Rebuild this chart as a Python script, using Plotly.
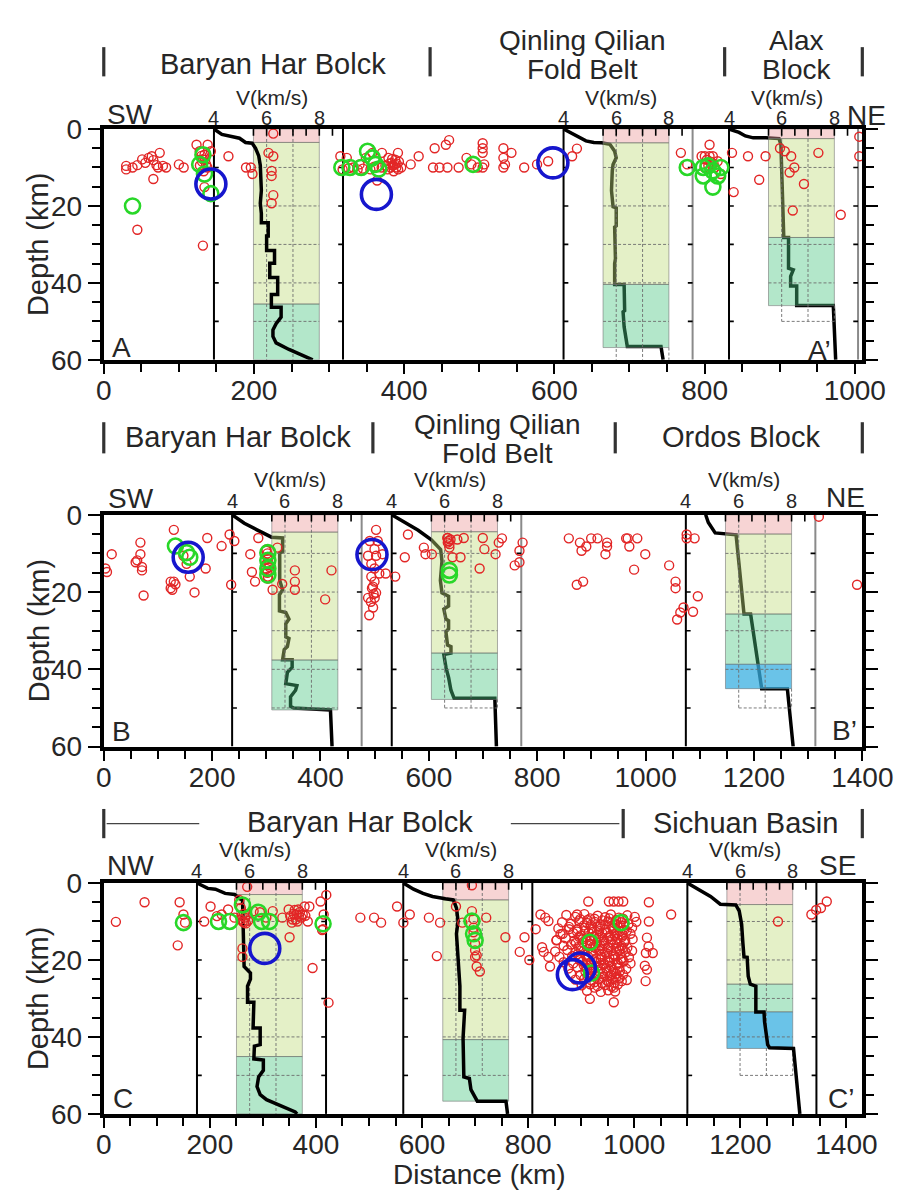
import plotly.graph_objects as go

# ---------------------------------------------------------------- data
# earthquakes: (distance km, depth km)
A_RED = [(29.8,9.6),(29.8,10.5),(38.3,10.0),(44.7,9.4),(51.1,7.9),(55.3,8.8),(59.6,7.5),(63.9,7.1),(66.0,8.1),(70.2,9.4),
         (72.4,10.0),(74.5,6.2),(78.8,9.6),(83.0,10.0),(66.0,13.0),(100.0,9.2),(106.4,10.0),(44.7,26.2),(132.0,30.3),
         (123.5,4.1),(127.7,5.8),(134.1,6.7),(138.3,4.1),(142.6,5.8),(132.0,7.9),(136.3,9.2),(134.1,15.1),(130.0,7.0),
         (131.0,8.5),(128.0,9.5),(135.0,8.0),(138.0,10.0),(133.0,11.0),
         (166.0,7.1),(189.4,10.0),(195.8,10.0),(198.0,11.7),(219.3,6.2),(225.7,7.1),(223.5,10.9),(223.5,12.2),(225.7,17.2),
         (223.5,19.3),(225.7,1.2),
         (315.0,7.1),(323.6,7.5),(332.0,10.0),(340.6,9.2),(349.0,7.5),(357.6,6.2),(370.4,6.2),(379.0,7.5),(383.0,8.8),
         (387.4,9.2),(391.7,6.2),(389.5,10.0),(396.0,10.0),(408.7,9.2),(419.3,7.1),(440.6,5.0),(455.5,4.1),(459.8,2.9),
         (438.4,10.0),(447.0,10.0),(457.6,10.0),(472.5,10.0),(483.0,7.5),(489.5,9.2),(498.0,10.0),(364.0,13.4),
         (380.0,9.0),(382.0,10.0),(385.0,9.5),(388.0,8.0),(390.0,9.0),(392.0,10.5),(386.0,11.0),(384.0,7.8),(393.0,8.5),
         (378.0,10.5),(375.0,9.5),(370.0,10.0),(360.0,9.8),(355.0,10.5),(345.0,10.3),(338.0,10.5),(326.0,10.2),(318.0,10.5),
         (504.5,3.7),(504.5,5.0),(504.5,6.2),(506.6,9.2),(504.5,10.0),(532.1,5.0),(532.1,7.5),(534.2,9.2),(532.1,10.0),
         (542.8,6.2),(559.8,10.0),(576.9,9.2),(591.7,8.4),(623.6,7.1),(630.0,5.1),
         (768.4,6.2),(776.9,9.2),(806.6,4.1),(796.0,7.1),(800.3,7.1),(806.6,7.1),(811.0,7.1),(808.8,9.2),(813.1,10.0),
         (817.4,8.4),(821.6,11.7),(836.5,6.2),(838.7,16.4),(857.8,7.1),(881.2,7.1),(900.4,5.0),(906.8,5.8),(915.3,7.1),
         (913.2,11.3),(919.5,10.0),(932.3,14.3),(951.5,6.2),(872.7,13.2),(1006.0,2.0),(1006.0,7.1),(917.4,21.2),
         (981.3,22.3),(803.0,8.0),(808.0,8.5),(812.0,9.0),(805.0,9.5),(800.0,10.0)]
A_GREEN = [(132.0,6.7),(127.7,9.2),(134.1,11.7),(142.6,16.8),(38.3,20.0),(317.0,10.0),(327.8,10.0),(342.7,10.0),
           (351.2,5.8),(357.6,7.5),(361.8,9.2),(366.1,10.4),(491.7,9.2),(776.9,10.0),(798.2,10.0),(804.6,9.6),
           (811.0,10.9),(821.6,10.0),(798.2,12.2),(817.4,12.2),(811.0,15.1)]
A_BLUE = [(142.6,14.3),(363.0,17.0),(598.0,8.8)]

B_RED = [(3.0,13.9),(5.9,14.8),(14.7,10.2),(61.7,11.8),(58.8,12.3),(67.6,7.2),(67.6,10.2),(70.5,13.5),(70.5,14.4),
         (123.5,17.3),(129.3,17.3),(126.4,19.4),(73.5,20.9),(129.3,3.9),(147.0,10.6),(152.9,12.7),(158.7,16.0),
         (167.5,20.1),(191.0,6.0),(188.1,13.9),(217.5,8.1),(232.2,5.1),(235.1,18.1),(241.0,6.8),(270.4,10.2),
         (285.2,6.0),(273.4,14.8),(279.2,17.3),(299.8,9.3),(302.8,11.0),(305.6,13.5),(302.8,16.0),(311.6,19.4),
         (320.5,8.5),(329.3,17.9),(352.7,14.4),(352.7,17.3),(352.7,19.4),(420.3,14.4),(408.6,21.9),
         (300.0,9.0),(302.0,10.0),(303.0,11.5),(301.0,12.5),(304.0,13.0),(300.0,14.0),(302.0,15.0),(303.0,16.5),
         (502.6,3.9),(490.8,6.8),(505.6,6.8),(499.7,8.9),(487.8,10.6),(502.6,10.6),(514.4,10.2),(493.8,12.7),
         (499.7,13.9),(508.5,15.2),(520.3,15.2),(493.8,16.0),(499.7,17.3),(496.8,18.6),(502.6,20.2),(487.8,21.5),
         (495.0,19.0),(498.0,20.5),(500.0,21.5),(493.0,22.5),(497.0,24.0),(490.0,26.0),
         (537.9,16.0),(555.6,11.0),(561.4,5.1),(590.8,8.5),(593.8,10.2),(605.5,10.2),(634.9,6.0),(634.9,7.2),
         (637.9,8.5),(652.6,6.4),(664.4,6.0),(643.7,11.0),(658.4,11.0),(699.5,6.0),(702.5,8.9),(693.7,13.9),
         (634.0,6.0),(636.0,6.8),(638.0,7.6),(640.0,6.4),
         (734.9,6.1),(729.0,7.2),(723.1,10.2),(758.4,13.1),(767.2,12.3),(767.2,9.3),(773.0,7.2),(858.3,6.1),
         (878.8,7.2),(881.8,9.3),(890.6,8.2),(899.5,6.1),(911.2,6.1),(928.9,7.2),(928.9,8.2),(925.9,10.2),
         (964.1,6.1),(967.0,6.1),(970.0,8.2),(984.7,6.1),(999.4,10.2),(978.8,14.2),(873.0,18.1),(884.7,17.3),
         (1043.5,13.1),(1055.3,17.3),(1055.3,19.0),(1075.8,5.1),(1075.8,6.1),(1090.5,6.1),(1319.8,0.5),(1390.3,18.1),
         (1070.0,24.0),(1064.1,25.3),(1058.2,27.1),(1087.6,25.1),(1096.4,21.1),(123.5,19.0),(132.3,18.0)]
B_GREEN = [(132.3,8.1),(152.9,9.8),(158.7,11.0),(302.8,9.8),(302.8,11.8),(302.8,13.9),(302.8,15.6),
           (637.9,14.4),(637.9,15.6)]
B_BLUE = [(155.8,11.0),(495.0,10.3)]

C_RED = [(22.8,10.1),(76.9,5.0),(143.0,5.0),(139.4,16.2),(150.2,8.2),(153.2,10.3),(189.3,10.0),(201.3,6.1),
         (213.3,8.6),(222.3,8.2),(234.4,6.9),(246.4,9.0),(255.4,4.4),(258.4,6.5),(264.4,10.3),(261.4,17.0),
         (261.4,19.2),(270.4,1.0),(270.4,8.2),(282.5,7.3),(294.4,7.6),(306.5,9.0),(318.5,7.3),(336.6,9.0),
         (348.5,6.9),(351.5,8.6),(354.6,10.3),(363.6,8.2),(366.5,6.9),(372.6,9.0),(378.6,6.1),(387.6,6.1),
         (384.6,10.0),(350.3,14.1),(393.6,22.1),(408.7,4.8),(414.6,8.2),(413.4,12.0),(419.5,3.1),(411.6,12.2),
         (423.7,31.1),(483.7,9.0),(509.6,9.0),(522.8,10.3),(552.9,6.1),(564.8,10.3),(576.9,8.2),(612.9,9.0),
         (634.0,10.3),(664.0,6.1),(676.0,10.3),(627.9,19.0),
         (258.0,9.5),(262.0,10.0),(266.0,9.0),(268.0,10.5),(272.0,9.8),(260.0,8.5),(264.0,8.0),
         (358.0,8.0),(362.0,9.5),(368.0,8.5),(370.0,7.5),(375.0,8.2),(360.0,7.0),(365.0,10.0),(356.0,9.5),(380.0,8.5),
         (694.0,0.6),(694.0,7.3),(697.0,9.4),(721.0,9.0),(757.2,14.1),(697.0,11.6),(697.0,12.8),(700.0,15.8),
         (700.0,17.5),(700.0,19.2),(703.0,21.7),(709.0,23.0),(703.0,18.8),
         (1069.6,8.2),(1027.6,5.0),(1027.6,10.0),(1024.0,14.2),(1027.0,16.5),(1022.0,18.2),(1035.0,18.2),
         (1020.0,21.5),(1024.0,22.5),
         (823.3,8.2),(832.3,9.0),(838.3,9.9),(814.3,12.0),(826.3,16.7),(829.3,17.9),(838.3,19.2),(802.3,20.0),
         (841.3,21.7),(784.2,17.9),(793.2,14.1),
         (913.4,4.8),(952.3,4.8),(961.3,4.8),(970.3,4.8),(979.3,4.8),(892.3,8.2),(877.3,12.0),(865.3,13.2),(853.2,14.9),
         (916.4,30.1),(961.5,31.0),(925.4,27.2),(961.5,27.2),(976.5,25.5),(1021.5,25.5),
         (1271.0,10.0),(1334.0,8.2),(1343.0,7.0),(1352.0,6.5),(1363.0,4.8)]
C_CLUSTER = [(872,8.3),(889,8.8),(906,8.1),(917,9.2),(931,8.5),(945,8.9),(956,8.2),(971,9.0),(987,8.4),(1001,8.8),
             (864,10.2),(881,10.6),(896,9.9),(911,10.4),(926,10.1),(937,10.8),(951,10.0),(963,10.5),(975,10.2),
             (989,10.7),(1004,10.1),
             (857,11.8),(877,11.4),(893,12.0),(907,11.6),(920,11.9),(935,11.3),(946,12.1),(959,11.7),(970,11.5),
             (981,12.2),(996,11.6),
             (861,13.3),(885,13.0),(899,13.6),(914,12.9),(929,13.4),(940,13.1),(954,13.7),(967,13.0),(978,13.5),(993,13.2),
             (854,14.8),(871,14.4),(887,15.0),(903,14.6),(917,14.9),(932,14.3),(943,15.1),(958,14.7),(969,14.5),
             (983,15.0),(997,14.6),
             (867,16.3),(881,16.0),(895,16.6),(911,16.1),(923,16.5),(936,16.2),(950,16.7),(961,16.0),(976,16.4),(987,16.8),
             (851,17.8),(874,17.4),(889,18.0),(905,17.6),(919,17.9),(934,17.5),(945,18.1),(957,17.7),(972,17.4),
             (984,18.0),(996,17.6),
             (859,19.2),(883,19.0),(898,19.5),(913,19.1),(928,19.6),(939,19.2),(953,19.4),(964,19.0),(977,19.5),(990,19.3),
             (867,20.6),(885,20.9),(902,20.4),(918,20.8),(929,20.5),(944,21.0),(954,20.6),(969,20.8),(980,20.4),(993,20.9),
             (876,22.2),(893,21.9),(911,22.4),(922,22.0),(937,22.3),(947,22.1),(961,22.5),(972,22.0),(985,22.3),
             (881,23.6),(899,23.9),(913,23.4),(928,23.8),(941,23.5),(956,23.9),(966,23.6),(979,23.8),
             (889,25.1),(906,24.9),(919,25.3),(934,25.0),(949,25.4),(959,25.1),(972,24.8),(986,25.2),
             (901,26.6),(917,26.3),(931,26.8),(945,26.5),(957,26.9),(969,26.4),
             (911,28.0),(937,28.3),(951,27.9),(964,28.2)]
C_CORE = [(898,9.4),(912,9.6),(925,9.3),(940,9.7),(953,9.2),(966,9.6),(979,9.3),
          (905,11.0),(918,10.9),(931,11.2),(944,10.8),(957,11.1),(968,10.9),(980,11.1),
          (892,12.6),(907,12.4),(921,12.7),(934,12.5),(948,12.8),(961,12.3),(973,12.6),(986,12.4),
          (896,14.0),(910,14.2),(924,13.9),(938,14.1),(951,14.3),(964,13.8),(977,14.0),
          (890,15.6),(903,15.4),(917,15.8),(930,15.5),(943,15.7),(956,15.3),(968,15.6),(981,15.4),
          (899,17.0),(912,17.2),(927,16.9),(940,17.1),(952,16.8),(966,17.1),(978,16.9),
          (893,18.5),(908,18.7),(922,18.4),(936,18.6),(949,18.3),(961,18.6),(974,18.4),
          (897,20.0),(911,19.8),(924,20.1),(937,19.9),(950,20.2),(962,19.8),(975,20.0),
          (905,21.4),(918,21.3),(931,21.6),(942,21.2),(956,21.5),(967,21.3),
          (908,23.0),(921,22.8),(935,23.1),(948,22.9),(961,23.2),(973,22.9),
          (912,24.3),(927,24.1),(941,24.4),(954,24.2),(966,24.5),
          (925,25.8),(939,26.0),(952,25.7),(963,25.9)]
C_GREEN = [(150.2,10.3),(216.3,10.0),(237.4,10.0),(261.4,5.7),(291.5,7.6),(297.5,10.0),(312.5,10.0),(413.4,10.6),
           (694.1,9.9),(697.1,13.2),(700.1,14.9),(916.4,15.4),(975.3,10.3),(919.5,23.4)]
C_BLUE = [(303.5,17.0),(883.4,23.8),(898.4,22.1)]

# velocity profiles: velocity (km/s) and depth (km)
A1_V = [4.0,4.3,4.97,5.2,5.45,5.58,5.7,5.76,5.8,5.76,5.8,5.8,6.06,6.06,6.0,6.0,6.3,6.3,6.12,6.12,6.42,6.42,
        6.18,6.18,6.55,6.55,6.36,6.24,6.24,6.36,6.85,7.75]
A1_D = [0,1.4,2.4,3.5,3.7,5,7,9.5,16,19.3,22,24.4,24.4,27.8,27.8,31.6,31.6,34.9,34.9,38.6,38.6,43.0,
        43.0,46.3,46.3,48.9,50.6,52.2,53.9,55.6,57.3,60]
A1_LAYERS = [(0,3.5,'pink'),(3.5,45.5,'yg'),(45.5,60,'teal')]

A2_V = [4.0,4.36,4.61,4.85,5.15,5.45,5.76,5.94,6.0,5.88,5.85,5.82,5.88,6.0,6.0,5.94,5.97,5.94,5.94,6.3,6.32,
        6.26,6.3,6.42,7.7,7.78]
A2_D = [0,1.4,2.4,3.1,3.5,3.6,4.0,5.8,7.5,9.2,10.9,16,20.2,20.5,25.2,25.5,33.7,35,40.4,40.4,47.2,47.5,51.4,
        56.5,56.5,60]
A2_LAYERS = [(0,3.6,'pink'),(3.6,40.4,'yg'),(40.4,56.8,'teal')]

A3_V = [4.0,4.38,4.62,4.92,5.4,5.9,5.97,6.0,6.01,6.08,6.08,6.26,6.26,6.44,6.34,6.34,6.57,6.57,7.96,8.05]
A3_D = [0,0.9,1.8,2.3,2.3,2.5,4,10,16,23.5,28.2,28.2,36.2,36.6,38.3,40.8,40.8,45.9,45.9,60]
A3_LAYERS = [(0,2.5,'pink'),(2.5,28.2,'yg'),(28.2,45.9,'teal')]

B1_V = [4.0,4.46,4.94,5.37,5.49,5.91,5.91,5.8,5.8,5.91,5.79,5.79,6.03,6.15,6.03,6.03,6.15,6.09,5.97,5.91,
        6.27,6.27,6.09,6.03,6.45,6.40,6.21,6.21,6.33,7.72,7.78]
B1_D = [0,2.2,3.9,5.5,5.8,6.0,9.5,10,17,19.4,20.7,24.9,25.3,27,28.2,31.6,32,34.1,34.9,37.5,37.5,39.5,40.8,
        43.7,44.2,45.4,47.1,49.6,50,50.5,60]
B1_LAYERS = [(0,4.5,'pink'),(4.5,37.6,'yg'),(37.6,50.5,'teal')]

B2_V = [4.0,4.5,5.0,5.5,5.85,5.9,5.84,5.9,6.15,6.15,5.97,6.05,6.15,6.15,6.05,6.11,6.24,6.24,5.97,6.05,
        6.15,6.24,6.36,7.9,7.96]
B2_D = [0,2,4,6.5,9,12,17,20.2,21.1,23.6,24.4,27,27.4,29.5,30.3,33.7,34.1,35.8,36.2,39.5,42.1,45.4,47.5,47.5,60]
B2_LAYERS = [(0,4.4,'pink'),(4.4,35.8,'yg'),(35.8,47.8,'teal')]

B3_V = [4.75,4.85,5.11,5.47,5.9,6.0,6.1,6.2,6.45,6.75,6.87,7.84,8.06]
B3_D = [0,2,4.7,5.0,5.2,12,19,25.7,25.7,38.7,45,45,60]
B3_LAYERS = [(0,5.0,'pink'),(5.0,25.7,'yg'),(25.7,38.7,'teal'),(38.7,45,'blue')]

C1_V = [4.0,4.41,4.7,5.07,5.43,5.6,5.73,5.77,5.79,6.03,6.03,5.92,5.92,6.16,6.16,6.13,6.4,6.4,6.18,6.16,6.52,
        6.52,6.34,6.28,6.4,6.64,7.73,7.8]
C1_D = [0,1.4,1.6,2.7,3.0,4.0,4.4,13.2,21.7,23.4,25,26.8,31,31,36,37.7,37.7,42,42.4,45.7,46,48.7,50.4,52.9,
        55,56.3,59.5,60]
C1_LAYERS = [(0,3.0,'pink'),(3.0,45.1,'yg'),(45.1,60,'teal')]

C2_V = [4.0,4.39,4.75,5.11,5.6,5.9,6.02,6.08,6.02,6.08,6.15,6.15,6.33,6.27,6.3,6.51,6.57,6.81,7.9,7.96]
C2_D = [0,1.6,2.7,3.5,4.1,4.4,6.5,9.9,13.2,20,26.8,33.1,33.1,40.3,50.4,50.8,53.7,56.7,56.7,60]
C2_LAYERS = [(0,4.4,'pink'),(4.4,40.7,'yg'),(40.7,56.7,'teal')]

C3_V = [4.0,4.39,4.88,5.25,5.84,5.97,6.06,6.11,6.15,6.27,6.31,6.39,6.6,6.6,6.91,6.93,7.05,7.12,8.03,8.27]
C3_D = [0,1.6,3.5,5.5,5.7,7.3,10.7,15.8,19.2,19.3,24.2,26.3,26.8,33.5,33.5,36,42,42.8,43,60]
C3_LAYERS = [(0,5.6,'pink'),(5.6,26.3,'yg'),(26.3,33.5,'teal'),(33.5,43,'blue')]

# distance (km) where each profile's 4 km/s axis sits
PROFILE_X4 = {'A1': 146.7, 'A2': 612.2, 'A3': 832.5,
              'B1': 236.9, 'B2': 531.5, 'B3': 1074.3,
              'C1': 175.7, 'C2': 564.6, 'C3': 1100.2}

# region boundaries (km) and labels
A_BOUNDS = [0, 434.5, 826.7, 1010]
B_BOUNDS = [0, 496.7, 944.0, 1400]
C_BOUNDS = [0, 979.2, 1430]
A_REGIONS = [(["Baryan Har Bolck"], 225.3), (["Qinling Qilian", "Fold Belt"], 637.6), (["Alax", "Block"], 922.3)]
B_REGIONS = [(["Baryan Har Bolck"], 247.5), (["Qinling Qilian", "Fold Belt"], 727.6), (["Ordos Block"], 1175.5)]
C_REGIONS = [(["Baryan Har Bolck"], 483.0), (["Sichuan Basin"], 1209.8)]

# ---------------------------------------------------------------- layout constants
FONT = "Liberation Sans, Arial, Helvetica, sans-serif"
TXT = "#262626"
W, H = 923, 1201
PLOT_L, PLOT_R = 100, 892
PANELS = ['A', 'B', 'C']
X_RANGE = {'A': 1010, 'B': 1400, 'C': 1430}
Y_TOP = {'A': 117, 'B': 513, 'C': 891}
Y_BOT = {'A': 354, 'B': 751, 'C': 1128}
V_PX = {'A': 27.5, 'B': 27.6, 'C': 27.5}   # pixels per km/s on profile axes
AX = {'A': ('x', 'y'), 'B': ('x2', 'y2'), 'C': ('x3', 'y3')}
PX_PER_KM = {p: (PLOT_R - PLOT_L) / X_RANGE[p] for p in PANELS}
PX_PER_DEP = {p: (Y_BOT[p] - Y_TOP[p]) / 60.0 for p in PANELS}
KM_PER_V = {p: V_PX[p] / PX_PER_KM[p] for p in PANELS}

LAYER_COLORS = {'pink': 'rgba(235,152,152,0.42)', 'yg': 'rgba(190,219,121,0.42)',
                'teal': 'rgba(74,198,129,0.42)', 'blue': 'rgba(56,175,224,0.75)'}

PROFILES = [
    dict(name='A1', v=A1_V, d=A1_D, layers=A1_LAYERS, grid=60, on_top=True, edge='black'),
    dict(name='A2', v=A2_V, d=A2_D, layers=A2_LAYERS, grid=60, on_top=False, edge='#8a8a8a'),
    dict(name='A3', v=A3_V, d=A3_D, layers=A3_LAYERS, grid=50, on_top=False, edge='#8a8a8a'),
    dict(name='B1', v=B1_V, d=B1_D, layers=B1_LAYERS, grid=50, on_top=False, edge='#8a8a8a'),
    dict(name='B2', v=B2_V, d=B2_D, layers=B2_LAYERS, grid=50, on_top=False, edge='#8a8a8a'),
    dict(name='B3', v=B3_V, d=B3_D, layers=B3_LAYERS, grid=50, on_top=False, edge='#8a8a8a'),
    dict(name='C1', v=C1_V, d=C1_D, layers=C1_LAYERS, grid=60, on_top=True, edge='black'),
    dict(name='C2', v=C2_V, d=C2_D, layers=C2_LAYERS, grid=50, on_top=True, edge='black'),
    dict(name='C3', v=C3_V, d=C3_D, layers=C3_LAYERS, grid=50, on_top=True, edge='black'),
]

fig = go.Figure()


def add_line(panel, xs, ys, color, width, dash=None):
    xa, ya = AX[panel]
    fig.add_trace(go.Scatter(x=xs, y=ys, mode='lines', xaxis=xa, yaxis=ya, hoverinfo='skip',
                             showlegend=False, line=dict(color=color, width=width, dash=dash)))


for p in PROFILES:
    pan = p['name'][0]
    x4 = PROFILE_X4[p['name']]
    k = KM_PER_V[pan]

    def X(v, x4=x4, k=k):
        return x4 + (v - 4.0) * k

    cx = [X(v) for v in p['v']]
    if not p['on_top']:
        add_line(pan, cx, p['d'], 'black', 3.5)
    box_bottom = max(l[1] for l in p['layers'])
    xa, ya = AX[pan]
    for d0, d1, c in p['layers']:
        fig.add_trace(go.Scatter(x=[X(5.5), X(8), X(8), X(5.5), X(5.5)], y=[d0, d0, d1, d1, d0],
                                 mode='lines', fill='toself', fillcolor=LAYER_COLORS[c],
                                 line=dict(color='rgba(110,110,110,0.55)', width=1),
                                 xaxis=xa, yaxis=ya, hoverinfo='skip', showlegend=False))
    gx, gy = [], []
    for v in (6, 7):
        gx += [X(v), X(v), None]
        gy += [0, p['grid'], None]
    if p['grid'] > box_bottom:
        gx += [X(8), X(8), None]
        gy += [box_bottom, p['grid'], None]
    for dd in (10, 20, 30, 40, 50):
        if dd <= p['grid']:
            v0 = 5.5 if dd < box_bottom else 6.0
            gx += [X(v0), X(8), None]
            gy += [dd, dd, None]
    add_line(pan, gx, gy, 'rgba(110,110,110,0.9)', 1, dash='3px,2px')
    if p['on_top']:
        add_line(pan, cx, p['d'], 'black', 3.5)
    # profile frame lines
    add_line(pan, [X(4), X(4)], [0, 60], 'black', 2)
    add_line(pan, [X(8.9), X(8.9)], [0, 60], p['edge'], 2)
    # ticks
    tl = 5 / PX_PER_KM[pan]
    td = 7 / PX_PER_DEP[pan]
    tx, ty = [], []
    for dd in (10, 20, 30, 40, 50):
        tx += [X(4), X(4) + tl, None, X(8.9), X(8.9) - tl, None]
        ty += [dd, dd, None, dd, dd, None]
    for v in (5.5, 6.0, 6.5, 7.0, 7.5, 8.0, 8.5):
        tx += [X(v), X(v), None]
        ty += [0, td, None]
    add_line(pan, tx, ty, 'black', 1.6)

QUAKES = {'A': (A_RED, A_GREEN, A_BLUE), 'B': (B_RED, B_GREEN, B_BLUE),
          'C': (C_RED + C_CLUSTER + C_CORE, C_GREEN, C_BLUE)}
STYLE = [('rgb(226,38,38)', 9, 1.4), ('rgb(40,215,40)', 15, 2.6), ('rgb(22,22,205)', 30, 3.6)]
for pan in PANELS:
    xa, ya = AX[pan]
    for pts, (col, size, lw) in zip(QUAKES[pan], STYLE):
        fig.add_trace(go.Scatter(x=[q[0] for q in pts], y=[q[1] for q in pts], mode='markers',
                                 xaxis=xa, yaxis=ya, hoverinfo='skip', showlegend=False,
                                 marker=dict(symbol='circle-open', size=size, color=col,
                                             line=dict(width=lw, color=col))))

# ---------------------------------------------------------------- axes
layout = dict(width=W, height=H, autosize=False, margin=dict(l=0, r=0, t=0, b=0),
              paper_bgcolor='white', plot_bgcolor='white', showlegend=False)
for i, pan in enumerate(PANELS):
    sx = '' if i == 0 else str(i + 1)
    layout['xaxis' + sx] = dict(domain=[PLOT_L / W, PLOT_R / W], anchor='y' + sx, range=[0, X_RANGE[pan]],
                                showline=True, mirror=True, linecolor='black', linewidth=4,
                                ticks='outside', tick0=0, dtick=200, ticklen=10, tickwidth=2, tickcolor='black',
                                minor=dict(dtick=50, tick0=0, ticks='outside', ticklen=8, tickwidth=2,
                                           tickcolor='black'),
                                ticklabelstandoff=-7,
                                showgrid=False, zeroline=False,
                                tickfont=dict(family=FONT, size=28, color=TXT))
    layout['yaxis' + sx] = dict(domain=[1 - Y_BOT[pan] / H, 1 - Y_TOP[pan] / H], anchor='x' + sx,
                                range=[60, 0], showline=True, mirror='allticks', linecolor='black', linewidth=4,
                                ticks='outside', tick0=0, dtick=20, ticklen=12, tickwidth=2, tickcolor='black',
                                minor=dict(dtick=5, tick0=0, ticks='outside', ticklen=8, tickwidth=2,
                                           tickcolor='black'),
                                showgrid=False, zeroline=False,
                                tickfont=dict(family=FONT, size=28, color=TXT))

# ---------------------------------------------------------------- texts
annotations, shapes = [], []


def km2px(pan, km):
    return PLOT_L + km * PX_PER_KM[pan]


def ann(text, xpx, ypx, size, **kw):
    annotations.append(dict(text=text, x=xpx / W, y=1 - ypx / H, xref='paper', yref='paper', showarrow=False,
                            xanchor='center', yanchor='middle',
                            font=dict(family=FONT, size=size, color=TXT), **kw))


def vbar(xpx, y0, y1):
    shapes.append(dict(type='line', xref='paper', yref='paper', x0=xpx / W, x1=xpx / W,
                       y0=1 - y0 / H, y1=1 - y1 / H, line=dict(color='#333333', width=3.2)))


def hline(x0, x1, ypx):
    shapes.append(dict(type='line', xref='paper', yref='paper', x0=x0 / W, x1=x1 / W,
                       y0=1 - ypx / H, y1=1 - ypx / H, line=dict(color='#444444', width=1.4)))


# region headers
for b in A_BOUNDS:
    vbar(km2px('A', b), 33, 63)
for b in B_BOUNDS:
    vbar(km2px('B', b), 418, 450)
for b in C_BOUNDS:
    vbar(km2px('C', b), 815, 845)
hline(km2px('C', 5.4), km2px('C', 180), 830)
hline(km2px('C', 767.4), km2px('C', 972), 830)

HEADER_Y = {'A': (50, 26, 55.5), 'B': (433, 420.5, 450), 'C': (828, 828, 858)}
for pan, regs in (('A', A_REGIONS), ('B', B_REGIONS), ('C', C_REGIONS)):
    ys = HEADER_Y[pan]
    for lines, km in regs:
        if len(lines) == 1:
            ann(lines[0], km2px(pan, km), ys[0] + (1.5 if lines[0] == 'Sichuan Basin' else 0), 29)
        else:
            ann(lines[0], km2px(pan, km), ys[1], 28)
            ann(lines[1], km2px(pan, km), ys[2], 28)

# direction labels and section letters
for t, x, y in (("SW", 127.5, 101.7), ("NE", 896, 102.7), ("SW", 128.3, 496.7), ("NE", 874, 495),
                ("NW", 128.3, 873.3), ("SE", 866, 873.3)):
    ann(t, x, y, 28)
for t, x, y in (("A", 119, 341), ("A\u2019", 847.5, 344), ("B", 118.3, 735), ("B\u2019", 873.3, 734),
                ("C", 120, 1111.7), ("C\u2019", 870, 1111.7)):
    ann(t, x, y, 28)

# velocity axis labels
VLAB_Y = {'A': (84.5, 105.5), 'B': (477, 499), 'C': (857, 878.3)}
for p in PROFILES:
    pan = p['name'][0]
    x4 = PROFILE_X4[p['name']]
    for v in (4, 6, 8):
        ann(str(v), km2px(pan, x4 + (v - 4) * KM_PER_V[pan]), VLAB_Y[pan][1], 20)
    ann("V(km/s)", km2px(pan, x4 + 2.2 * KM_PER_V[pan]), VLAB_Y[pan][0], 21)

# axis titles
for pan in PANELS:
    ann("Depth (km)", 32, (Y_TOP[pan] + Y_BOT[pan]) / 2, 29, textangle=-90)
ann("Distance (km)", 492, 1190, 28)

layout['annotations'] = annotations
layout['shapes'] = shapes
fig.update_layout(**layout)
fig.write_html("out.html")
